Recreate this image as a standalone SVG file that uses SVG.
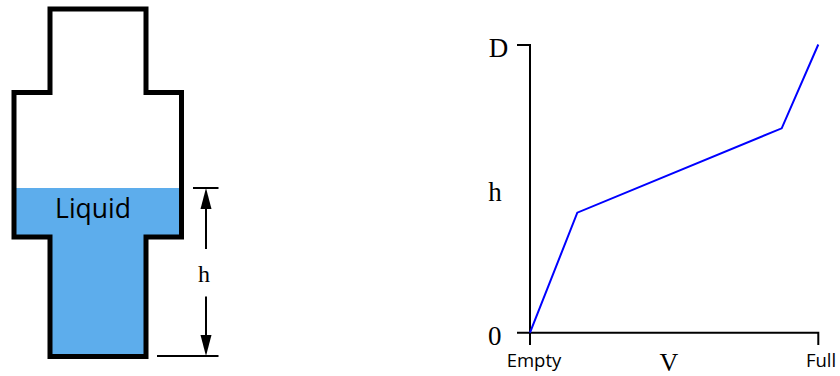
<svg xmlns="http://www.w3.org/2000/svg" width="840" height="376" viewBox="0 0 840 376">
<defs>
<style>
.serif{font-family:"Liberation Serif","DejaVu Serif",serif;fill:#000}
.sans{font-family:"Open Sans","Liberation Sans",sans-serif;fill:#000}
.thin{stroke:#000;stroke-width:2;fill:none}
.head{fill:#000}
</style>
</defs>
<rect width="840" height="376" fill="#fff"/>
<g id="tank">
<path d="M14,188 H181.5 V237 H146 V356.5 H50 V237 H14 Z" fill="#5DADEC"/>
<path d="M50,9 H146 V92.5 H181.5 V237 H146 V356.5 H50 V237 H14 V92.5 H50 Z" fill="none" stroke="#000" stroke-width="5" stroke-linejoin="miter"/>
<text class="sans" x="93" y="217.5" font-size="26.5" text-anchor="middle">Liquid</text>
</g>
<g id="dimension">
<line class="thin" x1="193" y1="188" x2="218.5" y2="188"/>
<line class="thin" x1="157" y1="356" x2="218.5" y2="356"/>
<line class="thin" x1="206" y1="205" x2="206" y2="249"/>
<line class="thin" x1="206" y1="296.5" x2="206" y2="338"/>
<polygon class="head" points="206,188 200.5,209 211.5,209"/>
<polygon class="head" points="206,356 200.5,335 211.5,335"/>
<text class="serif" x="204" y="281.5" font-size="24" text-anchor="middle">h</text>
</g>
<g id="graph">
<path class="thin" d="M517,45 H530 V345"/>
<path class="thin" d="M517,332.7 H818.3 V345"/>
<polyline points="530,332.7 577.3,212.7 781.7,128.3 818.3,44.5" fill="none" stroke="#0000FF" stroke-width="2" stroke-linejoin="miter"/>
<text class="serif" x="498.5" y="57.3" font-size="27" text-anchor="middle">D</text>
<text class="serif" x="495" y="200.5" font-size="27" text-anchor="middle">h</text>
<text class="serif" x="494.7" y="345" font-size="27" text-anchor="middle">0</text>
<text class="serif" x="669" y="371" font-size="26" text-anchor="middle">V</text>
<text class="sans" x="534" y="367.3" font-size="18.5" text-anchor="middle">Empty</text>
<text class="sans" x="821" y="367.3" font-size="18.5" text-anchor="middle">Full</text>
</g>
</svg>
